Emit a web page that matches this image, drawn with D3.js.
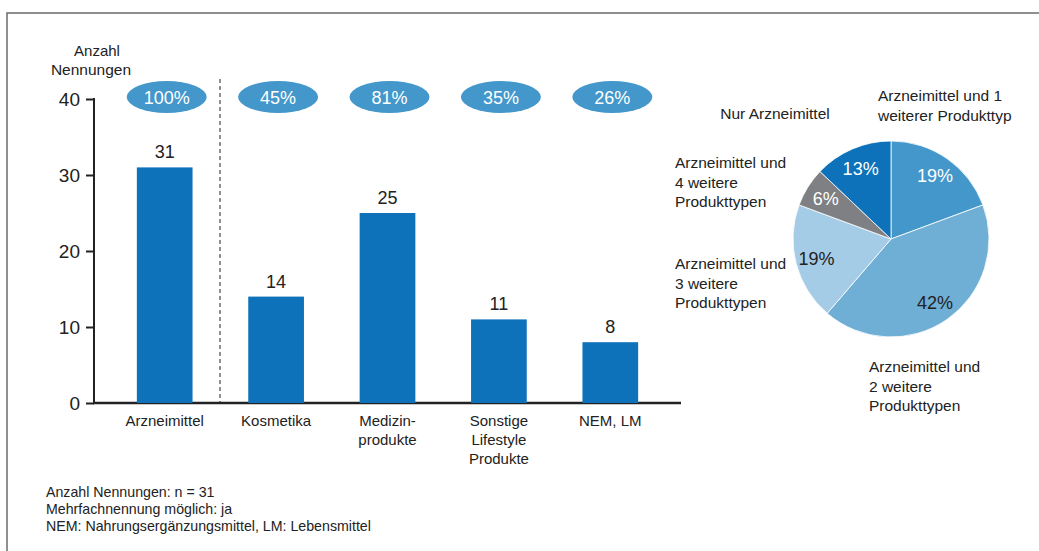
<!DOCTYPE html>
<html><head><meta charset="utf-8">
<script src="https://cdn.jsdelivr.net/npm/d3@7"></script>
<style>body{margin:0;background:#fff;font-family:"Liberation Sans",Arial,sans-serif;}</style>
</head><body>
<svg id="c" width="1039" height="551"></svg>
<script>
const categories = [["Arzneimittel"],["Kosmetika"],["Medizin-","produkte"],["Sonstige","Lifestyle","Produkte"],["NEM, LM"]];
const values = [31, 14, 25, 11, 8];
const shares = ["100%","45%","81%","35%","26%"];
const yTicks = [0,10,20,30,40];
const pieLabels = ["19%","42%","19%","6%","13%"];
const pieValues = [6, 13, 6, 2, 4];
const pieColors = ["#4397CB","#6FAED5","#A5CCE6","#7F8083","#0D72BA"];
const pieTextColors = ["#fff","#222","#222","#fff","#fff"];
const pieNames = [
  {lines:["Arzneimittel und 1","weiterer Produkttyp"], x:878, y:101, anchor:"start"},
  {lines:["Arzneimittel und","2 weitere","Produkttypen"], x:869, y:372, anchor:"start"},
  {lines:["Arzneimittel und","3 weitere","Produkttypen"], x:675, y:269, anchor:"start"},
  {lines:["Arzneimittel und","4 weitere","Produkttypen"], x:675, y:168, anchor:"start"},
  {lines:["Nur Arzneimittel"], x:775, y:119, anchor:"middle"}
];
const notes = ["Anzahl Nennungen: n = 31","Mehrfachnennung möglich: ja","NEM: Nahrungsergänzungsmittel, LM: Lebensmittel"];

const svg = d3.select("#c");
svg.append("path").attr("d","M7,551 V13 H1039").attr("fill","none").attr("stroke","#6b6b6b").attr("stroke-width",1.5);

const y = d3.scaleLinear().domain([0,40]).range([403,99]);
const x = d3.scaleBand().domain(d3.range(values.length)).range([109,666]).paddingInner(0.5).paddingOuter(0.25);

const ya = svg.append("g").attr("transform","translate(94,0)")
  .call(d3.axisLeft(y).tickValues(yTicks).tickSize(8).tickPadding(6));
ya.select(".domain").remove();
ya.selectAll(".tick line").attr("stroke","#222").attr("stroke-width",2);
ya.selectAll(".tick text").attr("font-size",19).attr("fill","#222").attr("font-family","Liberation Sans, Arial, sans-serif");
svg.append("line").attr("x1",94).attr("x2",94).attr("y1",98).attr("y2",404).attr("stroke","#222").attr("stroke-width",2);
svg.append("line").attr("x1",93).attr("x2",681).attr("y1",403).attr("y2",403).attr("stroke","#222").attr("stroke-width",2.5);

svg.append("text").attr("x",97).attr("y",56).attr("text-anchor","middle").attr("font-size",15).attr("fill","#222").text("Anzahl");
svg.append("text").attr("x",91).attr("y",75).attr("text-anchor","middle").attr("font-size",15.5).attr("fill","#222").text("Nennungen");

svg.append("line").attr("x1",220).attr("x2",220).attr("y1",79).attr("y2",402).attr("stroke","#222").attr("stroke-width",1).attr("stroke-dasharray","4,3");

svg.selectAll("rect.bar").data(values).join("rect").attr("class","bar")
  .attr("x",(d,i)=>x(i)).attr("width",x.bandwidth())
  .attr("y",d=>y(d)).attr("height",d=>y(0)-y(d)).attr("fill","#0D72BA");
svg.selectAll("text.val").data(values).join("text").attr("class","val")
  .attr("x",(d,i)=>x(i)+x.bandwidth()/2).attr("y",d=>y(d)-9)
  .attr("text-anchor","middle").attr("font-size",18).attr("fill","#222").text(d=>d);

const eg = svg.selectAll("g.ell").data(shares).join("g").attr("class","ell")
  .attr("transform",(d,i)=>`translate(${x(i)+x.bandwidth()/2+2},97)`);
eg.append("ellipse").attr("rx",40).attr("ry",16).attr("fill","#4397CB");
eg.append("text").attr("y",6.5).attr("text-anchor","middle").attr("font-size",18).attr("fill","#fff").text(d=>d);

categories.forEach((lines,i)=>{
  const t = svg.append("text").attr("text-anchor","middle").attr("font-size",15).attr("fill","#222");
  lines.forEach((l,j)=>t.append("tspan").attr("x",x(i)+x.bandwidth()/2).attr("y",426+j*19).text(l));
});

notes.forEach((n,i)=>svg.append("text").attr("x",46).attr("y",497+i*17).attr("font-size",14.2).attr("fill","#222").text(n));

const cx=891, cy=239, r=98;
const pie = d3.pie().sort(null).value(d=>d)(pieValues);
const arc = d3.arc().innerRadius(0).outerRadius(r);
const lab = d3.arc().innerRadius(77).outerRadius(77);
const pg = svg.append("g").attr("transform",`translate(${cx},${cy})`);
pg.selectAll("path").data(pie).join("path").attr("d",arc).attr("fill",(d,i)=>pieColors[i]).attr("stroke","#fff").attr("stroke-width",0.8);
pg.selectAll("text").data(pie).join("text")
  .attr("transform",d=>`translate(${lab.centroid(d)})`).attr("dy",6.5)
  .attr("text-anchor","middle").attr("font-size",18).attr("fill",(d,i)=>pieTextColors[i]).text((d,i)=>pieLabels[i]);

pieNames.forEach(p=>{
  const t = svg.append("text").attr("text-anchor",p.anchor).attr("font-size",15.5).attr("fill","#222");
  p.lines.forEach((l,j)=>t.append("tspan").attr("x",p.x).attr("y",p.y+j*19.5).text(l));
});
</script>
</body></html>
